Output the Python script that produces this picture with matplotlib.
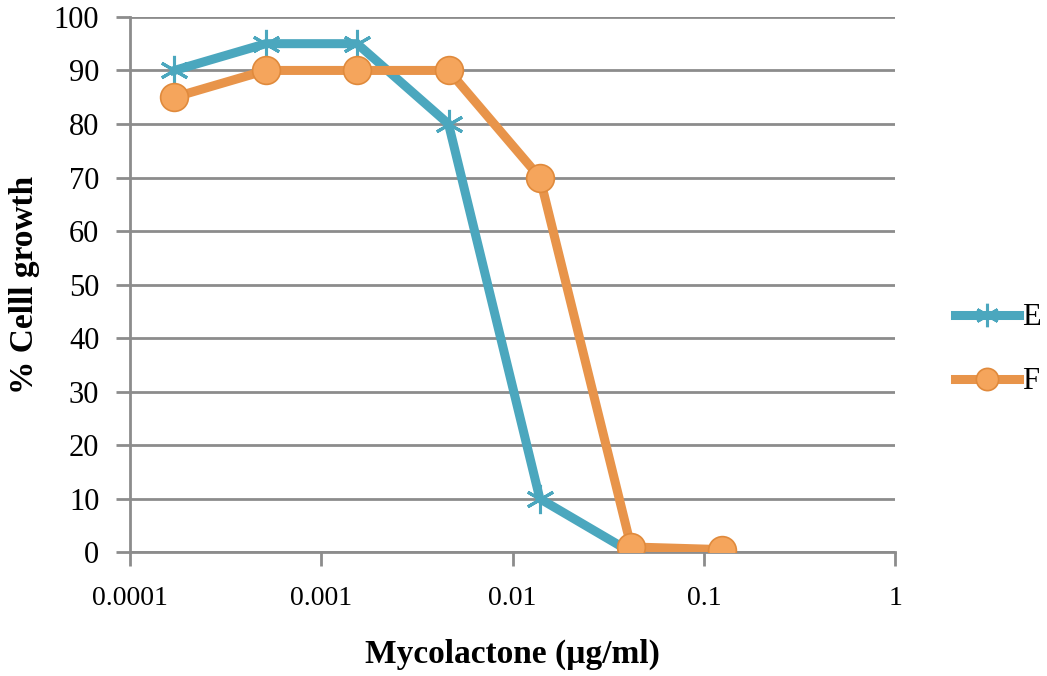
import matplotlib.pyplot as plt
import numpy as np

# three-fold dilution series of mycolactone
conc = [0.000171, 0.000514, 0.00154, 0.00463, 0.0139, 0.0417, 0.125]
growth_e = [90, 95, 95, 80, 10, 0, 0]
growth_f = [85, 90, 90, 90, 70, 1, 0.5]

blue = "#4BA7BE"
orange = "#E8944A"
grey = "#8C8C8C"

plt.rcParams["font.family"] = ["Liberation Serif", "DejaVu Serif"]

fig = plt.figure(figsize=(10.47, 6.76), dpi=100)
ax = fig.add_axes([0.124, 0.183, 0.731, 0.792])

ax.plot(conc, growth_e, color=blue, linewidth=6.5, marker=(6, 2, 0), markersize=21,
        markeredgewidth=2.2, markeredgecolor=blue, label="E", solid_joinstyle="miter", zorder=3)
ax.plot(conc, growth_f, color=orange, linewidth=6.5, marker="o", markersize=20,
        markerfacecolor="#F5A55C", markeredgecolor="#E08A3C", markeredgewidth=1.2,
        label="F", zorder=4)

ax.set_xscale("log")
ax.set_xlim(0.0001, 1)
ax.set_ylim(0, 100)
ax.set_xticks([0.0001, 0.001, 0.01, 0.1, 1])
ax.set_xticklabels(["0.0001", "0.001", "0.01", "0.1", "1"])
ax.minorticks_off()
ax.set_yticks(np.arange(0, 101, 10))

ax.grid(axis="y", color=grey, linewidth=2)
ax.set_axisbelow(True)
for s in ["top", "right"]:
    ax.spines[s].set_visible(False)
for s in ["left", "bottom"]:
    ax.spines[s].set_color(grey)
    ax.spines[s].set_linewidth(2)
ax.tick_params(axis="both", colors=grey, width=2, length=10, labelcolor="black")
ax.tick_params(axis="x", pad=14, labelsize=20)
ax.tick_params(axis="y", pad=12, labelsize=22)

ax.set_xlabel("Mycolactone (\u00b5g/ml)", fontsize=24, fontweight="bold", labelpad=20)
ax.set_ylabel("% Celll growth", fontsize=24, fontweight="bold", labelpad=10)

ax.legend(loc="center left", bbox_to_anchor=(1.078, 0.378), frameon=False, fontsize=22,
          handlelength=2.1, handletextpad=0.1, labelspacing=1.15, markerscale=0.8,
          borderpad=0, borderaxespad=0)

fig.savefig("out.png", dpi=100)
